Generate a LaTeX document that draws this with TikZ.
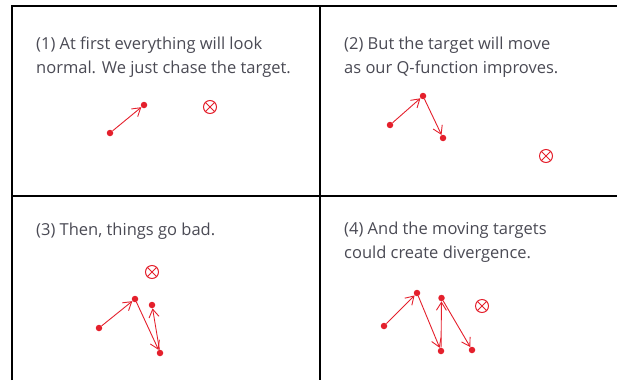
\documentclass[tikz,border=0pt]{standalone}
\usepackage{fontspec}
\setmainfont{Open Sans}
\usepackage{xcolor}
\usetikzlibrary{arrows.meta}
\definecolor{qred}{HTML}{E4202C}
\definecolor{capgray}{HTML}{4A4A54}
\tikzset{
  panelline/.style={line width=1.5pt, draw=black},
  caption/.style={anchor=base west, align=left, inner sep=0pt, text=capgray,
                  font=\fontsize{16.5}{23.5}\selectfont},
  dot/.style={circle, fill=qred, inner sep=0pt, minimum size=6.5pt},
  target/.style={circle, draw=qred, line width=1pt, inner sep=0pt, minimum size=13pt},
  move/.style={-{Straight Barb[length=8pt, width=10pt]}, draw=qred, line width=0.9pt},
}

\begin{document}
\begin{tikzpicture}[x=1pt, y=-1pt]
  \useasboundingbox (0,0) rectangle (617,380);

  % frame of the four panels
  \draw[panelline] (12,380) -- (12,6) -- (617,6);
  \draw[panelline] (12,196) -- (617,196);
  \draw[panelline] (320,6) -- (320,380);

  % panel 1
  \node[caption] (cap1) at (36,73) {(1) At first everything will look\\normal. We just chase the target.};
  \node[dot] (a1) at (110,133) {};
  \node[dot] (a2) at (144,105) {};
  \node[target] (ta) at (210,107) {};
  \draw[move] (a1) -- (a2);

  % panel 2
  \node[caption] (cap2) at (344,73) {(2) But the target will move\\as our Q-function improves.};
  \node[dot] (b1) at (390,125) {};
  \node[dot] (b2) at (423,96) {};
  \node[dot] (b3) at (443,138) {};
  \node[target] (tb) at (546,156) {};
  \draw[move] (b1) -- (b2);
  \draw[move] (b2) -- (b3);

  % panel 3
  \node[caption] (cap3) at (36,235) {(3) Then, things go bad.};
  \node[dot] (c1) at (99,328) {};
  \node[dot] (c2) at (135,299) {};
  \node[dot] (c3) at (160,353) {};
  \node[dot] (c4) at (152,305) {};
  \node[target] (tc) at (152,272) {};
  \draw[move] (c1) -- (c2);
  \draw[move] (c2) -- (c3);
  \draw[move] (c3) -- (c4);

  % panel 4
  \node[caption] (cap4) at (344,258) {(4) And the moving targets\\could create divergence.};
  \node[dot] (d1) at (384,326) {};
  \node[dot] (d2) at (417,293) {};
  \node[dot] (d3) at (441,351) {};
  \node[dot] (d4) at (441.5,298) {};
  \node[dot] (d5) at (472,350) {};
  \node[target] (td) at (482,306) {};
  \draw[move] (d1) -- (d2);
  \draw[move] (d2) -- (d3);
  \draw[move] (d3) -- (d4);
  \draw[move] (d4) -- (d5);

  % crosses in the targets
  \foreach \t in {ta,tb,tc,td} {
    \draw[qred, line width=1pt] (\t.north west) -- (\t.south east)
                                (\t.north east) -- (\t.south west);
  }
\end{tikzpicture}
\end{document}
